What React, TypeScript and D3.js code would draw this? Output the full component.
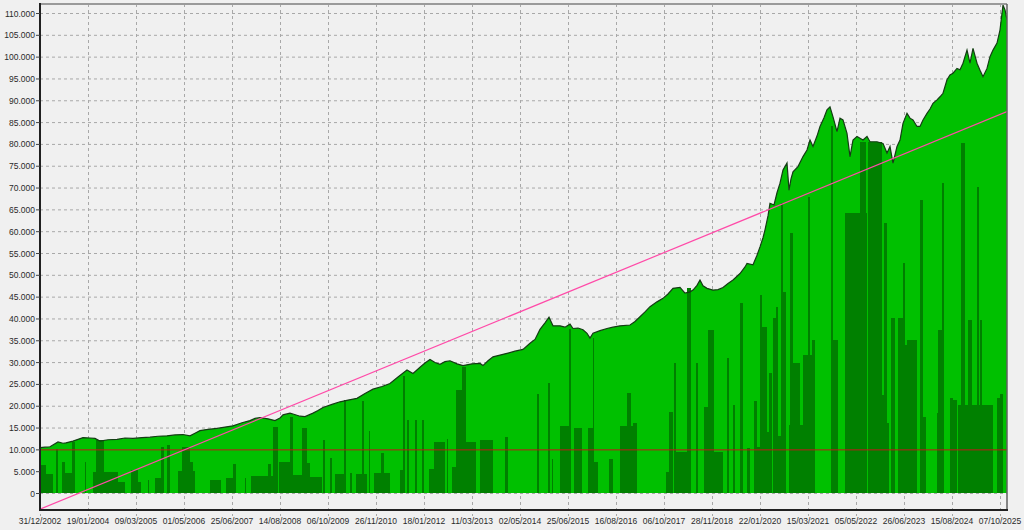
import { useMemo } from "react";
import * as d3 from "d3";

// x = bar index (about 6 bars per pixel), one date label every 288 bars
const dateLabels = [
  "31/12/2002", "19/01/2004", "09/03/2005", "01/05/2006", "25/06/2007",
  "14/08/2008", "06/10/2009", "26/11/2010", "18/01/2012", "11/03/2013",
  "02/05/2014", "25/06/2015", "16/08/2016", "06/10/2017", "28/11/2018",
  "22/01/2020", "15/03/2021", "05/05/2022", "26/06/2023", "15/08/2024",
  "07/10/2025",
];
const barsPerLabel = 288;
const lastBar = 5802;

// equity curve: [bar, value]
const equity: [number, number][] = [
  [0, 10400], [30, 10500], [60, 10600], [108, 11700], [138, 11400], [156, 11500],
  [198, 11900], [258, 12700], [300, 12600], [330, 12500], [360, 11900], [408, 12200],
  [462, 12300], [510, 12600], [558, 12500], [612, 12700], [660, 12800], [708, 13000],
  [762, 13100], [810, 13300], [858, 13400], [900, 13100], [930, 13700], [960, 14300],
  [1008, 14600], [1062, 14800], [1110, 15100], [1158, 15400], [1212, 16100], [1260, 16600],
  [1290, 17100], [1320, 17300], [1368, 17000], [1410, 16600], [1440, 17200], [1458, 17900],
  [1500, 18300], [1518, 18100], [1560, 17600], [1590, 17500], [1638, 18300], [1668, 18900],
  [1698, 19600], [1752, 20300], [1800, 20900], [1848, 21300], [1902, 21700], [1950, 22800],
  [1998, 23800], [2052, 24400], [2100, 25100], [2148, 26600], [2202, 28200], [2238, 27400],
  [2280, 28800], [2310, 29800], [2340, 30600], [2370, 29900], [2400, 29500], [2430, 30100],
  [2460, 30300], [2502, 29600], [2538, 29200], [2592, 29600], [2640, 29700], [2658, 29200],
  [2688, 30300], [2718, 31200], [2760, 31600], [2802, 32000], [2850, 32500], [2898, 32900],
  [2940, 34300], [2970, 35200], [3000, 37500], [3030, 39000], [3054, 40300], [3078, 38300],
  [3120, 38300], [3150, 38000], [3180, 38700], [3198, 37700], [3228, 37800], [3258, 37400],
  [3282, 36600], [3300, 35500], [3318, 36600], [3360, 37200], [3402, 37700], [3438, 38000],
  [3480, 38300], [3540, 38500], [3570, 39300], [3600, 40400], [3630, 41500], [3660, 42700],
  [3702, 43800], [3738, 44600], [3768, 45600], [3798, 46900], [3840, 47100], [3870, 45800],
  [3900, 46100], [3918, 46500], [3942, 47600], [3960, 48800], [3978, 47500], [4002, 46900],
  [4038, 46500], [4068, 46600], [4098, 47100], [4128, 48000], [4158, 48800], [4200, 50300],
  [4230, 51800], [4242, 52600], [4278, 52300], [4302, 54500], [4320, 56400], [4338, 58500],
  [4350, 60300], [4368, 63500], [4380, 66400], [4404, 66000], [4422, 68800], [4440, 71000],
  [4458, 74000], [4482, 75600], [4494, 69400], [4506, 72000], [4518, 73600], [4548, 74800],
  [4578, 77100], [4602, 78600], [4620, 80900], [4638, 79400], [4662, 81800], [4680, 84000],
  [4704, 86000], [4722, 87800], [4740, 88500], [4758, 86200], [4782, 82800], [4800, 85900],
  [4818, 85500], [4842, 82400], [4860, 77100], [4878, 80900], [4902, 81700], [4938, 80900],
  [4962, 81700], [4980, 80500], [5022, 80500], [5058, 80100], [5082, 77900], [5100, 79400],
  [5118, 75600], [5142, 79400], [5160, 80900], [5178, 84700], [5202, 87000], [5220, 85900],
  [5238, 85500], [5262, 84000], [5280, 84000], [5298, 85500], [5322, 87000], [5340, 88000],
  [5358, 89300], [5382, 90100], [5400, 90800], [5418, 91600], [5442, 94700], [5460, 95800],
  [5478, 96200], [5502, 97300], [5520, 97000], [5538, 98500], [5562, 101500], [5580, 98500],
  [5598, 101900], [5622, 98500], [5640, 96900], [5658, 95400], [5682, 97300], [5700, 100000],
  [5718, 101500], [5742, 103100], [5760, 106100], [5778, 111800], [5790, 110700], [5802, 108400],
];

// cash held out of the market: [fromBar, toBar, value]
const cash: [number, number, number][] = [
  [0, 36, 6400], [36, 78, 4300], [96, 108, 10000], [132, 210, 4500], [132, 150, 7200],
  [192, 210, 11800], [270, 276, 7000], [318, 468, 4900], [336, 384, 12100], [468, 510, 2600],
  [546, 588, 5300], [588, 606, 2600], [648, 654, 3000], [690, 726, 3400], [726, 744, 10600],
  [762, 780, 11100], [828, 852, 5000], [852, 900, 10500], [900, 918, 7000], [918, 930, 5000],
  [1020, 1086, 3000], [1116, 1170, 3400], [1158, 1176, 6700], [1230, 1236, 3400],
  [1266, 1428, 3900], [1368, 1386, 6700], [1398, 1428, 15200], [1434, 1500, 7200],
  [1500, 1518, 17500], [1500, 1572, 4100], [1572, 1602, 14800], [1602, 1620, 6800],
  [1620, 1692, 3700], [1698, 1710, 12100], [1740, 1752, 8000], [1770, 1830, 4300],
  [1824, 1836, 21300], [1860, 1872, 4600], [1896, 1962, 4300], [1932, 1944, 21000],
  [1974, 1980, 14200], [2004, 2100, 4600], [2046, 2064, 9200], [2160, 2190, 5300],
  [2178, 2190, 26700], [2202, 2214, 16800], [2250, 2262, 16800], [2292, 2304, 16800],
  [2334, 2364, 5600], [2364, 2430, 11800], [2442, 2448, 12400], [2472, 2496, 5900],
  [2496, 2532, 23600], [2532, 2556, 28900], [2556, 2616, 11800], [2640, 2718, 12100],
  [2790, 2808, 12800], [2982, 2994, 22800], [3048, 3060, 25100], [3072, 3078, 7900],
  [3120, 3180, 15400], [3174, 3186, 37500], [3204, 3252, 15000], [3288, 3318, 15000],
  [3318, 3324, 35500], [3318, 3348, 7200], [3414, 3438, 7900], [3480, 3582, 15400],
  [3522, 3546, 23000], [3558, 3582, 16000], [3756, 3780, 4900], [3774, 3798, 18500],
  [3804, 3816, 29700], [3810, 3900, 9500], [3882, 3906, 47000], [3936, 3948, 29700],
  [3984, 4008, 19800], [4008, 4044, 37400], [4044, 4098, 9500], [4122, 4134, 30900],
  [4158, 4170, 20200], [4200, 4218, 43500], [4242, 4260, 10300], [4284, 4302, 21000],
  [4302, 4320, 10500], [4320, 4332, 45400], [4332, 4362, 38000], [4362, 4374, 14000],
  [4374, 4392, 27500], [4398, 4416, 40000], [4416, 4428, 42700], [4428, 4458, 13000],
  [4446, 4458, 66400], [4458, 4476, 46100], [4494, 4518, 15600], [4500, 4518, 59500],
  [4518, 4536, 29800], [4536, 4560, 29800], [4560, 4578, 15600], [4578, 4632, 31600],
  [4608, 4620, 67900], [4632, 4650, 35000],
  [4746, 4758, 84000], [4752, 4788, 35000], [4830, 4962, 64100],
  [4920, 4956, 80500], [4968, 5052, 80500], [5052, 5082, 22500], [5064, 5082, 61800],
  [5082, 5094, 16000], [5106, 5130, 40000], [5148, 5178, 40000], [5178, 5202, 33900],
  [5178, 5190, 52600], [5202, 5262, 35100],
  [5280, 5298, 67200], [5298, 5316, 17500], [5382, 5424, 18300], [5388, 5412, 37400],
  [5412, 5424, 71000], [5460, 5478, 21700], [5478, 5502, 21300],
  [5508, 5718, 20200], [5526, 5550, 80100], [5568, 5592, 39700], [5622, 5634, 70200],
  [5640, 5652, 39700], [5742, 5760, 21700], [5760, 5778, 22800],
];

// regression line ends and starting capital
const trend: [number, number][] = [[0, -3700], [5802, 87400]];
const startCapital = 10000;
const yTicks = d3.range(0, 110001, 5000);

const W = 1024;
const H = 530;
const plot = { left: 40, right: 1007, top: 4, bottom: 510 };
const FONT = "'Liberation Sans', Arial, sans-serif";

const fmtY = (v: number) => (v === 0 ? "0" : d3.format(",")(v).replace(/,/g, "."));

export default function App() {
  const x = useMemo(
    () => d3.scaleLinear().domain([0, lastBar]).range([plot.left, plot.right]),
    []
  );
  const y = useMemo(() => d3.scaleLinear().domain([0, 110000]).range([493, 13]), []);

  const area = d3
    .area<[number, number]>()
    .x((d) => x(d[0]))
    .y0(y(0))
    .y1((d) => y(d[1]));
  const line = d3
    .line<[number, number]>()
    .x((d) => x(d[0]))
    .y((d) => y(d[1]));

  const xTicks = dateLabels.map((label, i) => ({ label, bar: i * barsPerLabel }));

  return (
    <svg
      width={W}
      height={H}
      style={{ position: "absolute", left: 0, top: 0, display: "block" }}
      fontFamily={FONT}
    >
      <defs>
        <clipPath id="plotClip">
          <rect
            x={plot.left}
            y={plot.top}
            width={plot.right - plot.left}
            height={plot.bottom - plot.top}
          />
        </clipPath>
      </defs>
      <rect width={W} height={H} fill="#f0f0f0" />

      {/* grid */}
      <g stroke="#a8a8a8" strokeWidth={1} strokeDasharray="3,3">
        {yTicks.map((t) => (
          <line key={"gy" + t} x1={plot.left} x2={plot.right} y1={y(t) + 0.5} y2={y(t) + 0.5} />
        ))}
        {xTicks.map((t) => (
          <line
            key={"gx" + t.bar}
            x1={Math.round(x(t.bar)) + 0.5}
            x2={Math.round(x(t.bar)) + 0.5}
            y1={plot.top}
            y2={plot.bottom + 6}
          />
        ))}
      </g>

      <g clipPath="url(#plotClip)">
        <path d={area(equity) || ""} fill="#00c000" />
        <g fill="#008000" shapeRendering="crispEdges">
          {cash.map(([a, b, v], i) => (
            <rect
              key={i}
              x={x(a)}
              width={Math.max(1, x(b) - x(a))}
              y={y(v)}
              height={y(0) - y(v)}
            />
          ))}
        </g>
        <path d={line(equity) || ""} fill="none" stroke="#143c14" strokeWidth={1.2} />
        <line
          x1={plot.left}
          x2={plot.right}
          y1={y(startCapital) + 0.5}
          y2={y(startCapital) + 0.5}
          stroke="#c01818"
          strokeWidth={1}
        />
        <path d={line(trend) || ""} fill="none" stroke="#ff4aa8" strokeWidth={1.2} />
      </g>

      {/* frame */}
      <line x1={plot.left} x2={plot.right} y1={plot.top} y2={plot.top} stroke="#9a9a9a" strokeWidth={2} />
      <line x1={plot.right} x2={plot.right} y1={plot.top} y2={plot.bottom} stroke="#606060" strokeWidth={1.5} />
      <line x1={plot.left} x2={plot.left} y1={plot.top - 1} y2={plot.bottom + 1} stroke="#202020" strokeWidth={2} />
      <line x1={plot.left - 1} x2={plot.right + 1} y1={plot.bottom} y2={plot.bottom} stroke="#202020" strokeWidth={2} />

      {/* y axis */}
      <g fontSize={8.5} fill="#2a2a2a" textAnchor="end">
        {yTicks.map((t) => (
          <g key={"yt" + t}>
            <line x1={plot.left - 4} x2={plot.left} y1={y(t) + 0.5} y2={y(t) + 0.5} stroke="#444" />
            <text x={35} y={y(t) + 3.5}>
              {fmtY(t)}
            </text>
          </g>
        ))}
      </g>

      {/* x axis */}
      <g fontSize={8.5} fill="#2a2a2a" textAnchor="middle">
        {xTicks.map((t) => (
          <text key={"xt" + t.bar} x={x(t.bar)} y={524}>
            {t.label}
          </text>
        ))}
      </g>
    </svg>
  );
}
